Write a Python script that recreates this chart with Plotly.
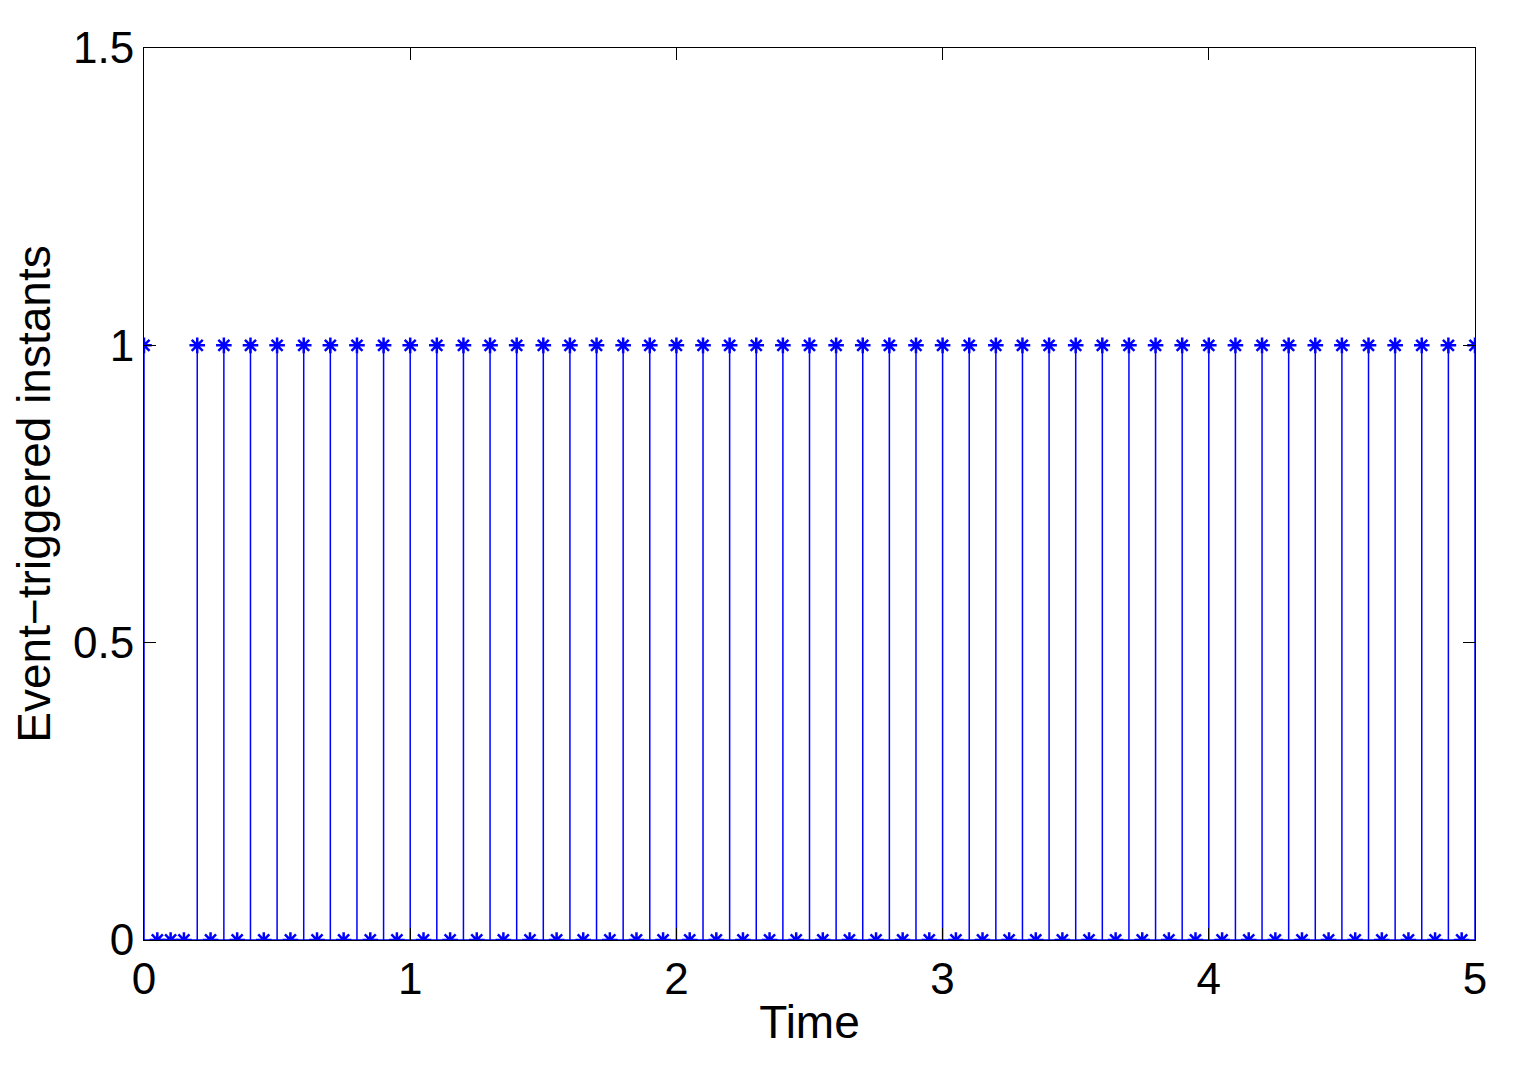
import plotly.graph_objects as go

ones_t = [0, 0.2, 0.3, 0.4, 0.5, 0.6, 0.7, 0.8, 0.9, 1.0, 1.1, 1.2, 1.3, 1.4, 1.5, 1.6, 1.7, 1.8, 1.9, 2.0,
          2.1, 2.2, 2.3, 2.4, 2.5, 2.6, 2.7, 2.8, 2.9, 3.0, 3.1, 3.2, 3.3, 3.4, 3.5, 3.6, 3.7, 3.8, 3.9, 4.0,
          4.1, 4.2, 4.3, 4.4, 4.5, 4.6, 4.7, 4.8, 4.9, 5.0]
zeros_t = [0.05, 0.1, 0.15, 0.25, 0.35, 0.45, 0.55, 0.65, 0.75, 0.85, 0.95, 1.05, 1.15, 1.25, 1.35, 1.45,
           1.55, 1.65, 1.75, 1.85, 1.95, 2.05, 2.15, 2.25, 2.35, 2.45, 2.55, 2.65, 2.75, 2.85, 2.95, 3.05,
           3.15, 3.25, 3.35, 3.45, 3.55, 3.65, 3.75, 3.85, 3.95, 4.05, 4.15, 4.25, 4.35, 4.45, 4.55, 4.65,
           4.75, 4.85, 4.95]
ones_v = [1] * len(ones_t)
zeros_v = [0] * len(zeros_t)

blue = "#0000ff"
sx, sy = [], []
for t, v in zip(ones_t, ones_v):
    sx += [t, t, None]
    sy += [0, v, None]

fig = go.Figure()
fig.add_trace(go.Scatter(x=sx, y=sy, mode="lines", line=dict(color=blue, width=1.5), hoverinfo="skip"))
fig.add_trace(go.Scatter(x=[0, 5], y=[0, 0], mode="lines", line=dict(color=blue, width=1.5)))
fig.add_trace(go.Scatter(x=ones_t + zeros_t, y=ones_v + zeros_v, mode="markers",
                         marker=dict(symbol="asterisk-open", size=13, color=blue,
                                     line=dict(color=blue, width=2.5))))

fam = "Liberation Sans Narrow, Liberation Sans"
axis = dict(showgrid=False, zeroline=False, showline=True, linecolor="black", linewidth=1,
            mirror="ticks", ticks="inside", ticklen=12, tickcolor="black",
            tickfont=dict(family=fam, size=44, color="black"))
fig.update_layout(
    width=1536, height=1080, showlegend=False,
    plot_bgcolor="white", paper_bgcolor="white",
    margin=dict(l=136, r=69, t=40, b=148),
    xaxis=dict(range=[0, 5], tickvals=[0, 1, 2, 3, 4, 5],
               title=dict(text="Time", font=dict(family=fam, size=46, color="black"), standoff=4),
               **axis),
    yaxis=dict(range=[0, 1.5], tickvals=[0, 0.5, 1, 1.5], ticktext=["0", "0.5", "1", "1.5"],
               title=dict(text="Event−triggered instants", font=dict(family="Liberation Sans", size=46, color="black"), standoff=10),
               **axis),
)
fig.write_html("out.html")
